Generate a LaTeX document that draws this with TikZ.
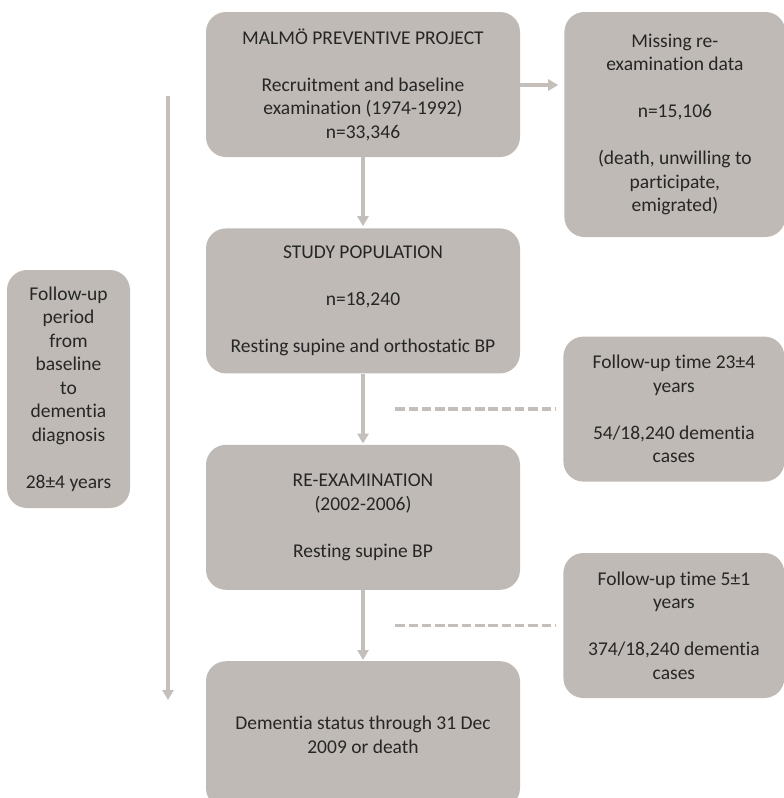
\documentclass[tikz,border=0pt]{standalone}
\usepackage{fontspec}
\setmainfont{Carlito}[Ligatures={NoCommon,NoRare,NoContextual}]
\usetikzlibrary{arrows.meta,positioning,calc}
\definecolor{boxgray}{RGB}{191,186,181}
\definecolor{linegray}{RGB}{196,191,187}
\definecolor{textgray}{RGB}{38,38,38}

\begin{document}
\begin{tikzpicture}[x=1pt, y=-1pt, node distance=71pt, >={Triangle[length=10pt,width=11pt]}]
        \tikzstyle{block} = [fill=boxgray, text=textgray, rounded corners=20pt, align=center, minimum width=314pt, minimum height=145pt, inner sep=0pt, font=\fontsize{19.5}{23.5}\selectfont]
        \tikzstyle{side} = [block, minimum width=221pt]
        \tikzstyle{flow} = [->, draw=linegray, line width=3.5pt]
        \tikzstyle{gap} = [draw=linegray, line width=3.5pt, dash pattern=on 9.5pt off 3.8pt]

        \useasboundingbox (0,0) rectangle (784,798);

        \node [block] (malmo) at (363,84.5) {MALMÖ PREVENTIVE PROJECT\\[23.5pt] Recruitment and baseline\\ examination (1974-1992)\\ n=33,346};
        \node [block, below=of malmo] (study) {STUDY POPULATION\\[23.5pt] n=18,240\\[23.5pt] Resting supine and orthostatic BP};
        \node [block, below=of study] (reexam) {RE-EXAMINATION\\ (2002-2006)\\[23.5pt] Resting supine BP};
        \node [block, below=of reexam, minimum height=147pt] (status) {Dementia status through 31 Dec\\ 2009 or death};

        \node [side, below right=0pt and 44pt of malmo.north east, minimum height=225pt] (missing) {Missing re-\\ examination data\\[23.5pt] n=15,106\\[23.5pt] (death, unwilling to\\ participate,\\ emigrated)};
        \node [side, right=43pt of {$(study.south east)!0.5!(reexam.north east)$}] (fuone) {Follow-up time 23±4\\ years\\[23.5pt] 54/18,240 dementia\\ cases};
        \node [side, right=43pt of {$(reexam.south east)!0.5!(status.north east)$}] (futwo) {Follow-up time 5±1\\ years\\[23.5pt] 374/18,240 dementia\\ cases};

        \node [block, minimum width=123pt, minimum height=238pt] (period) at (68.5,389) {Follow-up\\ period\\ from\\ baseline\\ to\\ dementia\\ diagnosis\\[23.5pt] 28±4 years};

        \draw [flow, shorten >=2pt] (malmo) -- (study);
        \draw [flow, shorten >=1pt] (study) -- (reexam);
        \draw [flow, shorten >=1pt] (reexam) -- (status);
        \draw [flow, shorten >=6pt] (malmo.east |- 0,85) -- (missing.west |- 0,85);

        \coordinate (gapone) at ($(fuone.west)+(-168,0)$);
        \coordinate (gaptwo) at ($(futwo.west)+(-168,0)$);
        \draw [gap] (gapone) -- ([xshift=-8pt]fuone.west);
        \draw [gap] (gaptwo) -- ([xshift=-8pt]futwo.west);

        \coordinate (spantop) at (168,96);
        \coordinate (spanend) at (168,700);
        \draw [flow] (spantop) -- (spanend);
    \end{tikzpicture}
\end{document}
